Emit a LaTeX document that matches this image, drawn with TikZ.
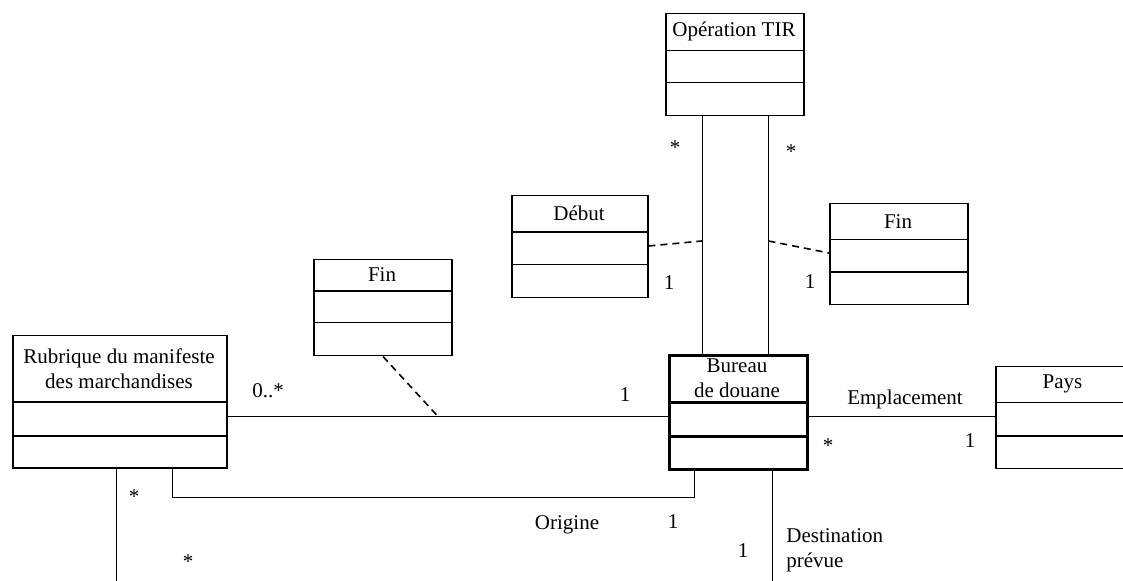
\documentclass[tikz,border=0pt]{standalone}
\usepackage{fontspec}
\setmainfont{Liberation Serif}
\usepackage{tikz}

% class box: name, left, top, right, bottom, first divider, second divider, title
\newcommand{\umlclass}[8]{%
  \node [cls, minimum width={(#4-#2)*0.5pt}, minimum height={(#5-#3)*0.5pt}] (#1) at (#2,#3) {};
  \draw [line width=0.75pt] (#2,#6) -- (#4,#6);
  \draw [line width=0.75pt] (#2,#7) -- (#4,#7);
  \node [align=center] (#1-title) at ({(#2+#4)/2},{(#3+#6)/2}) {#8};
}

\tikzset{
  cls/.style={draw, line width=0.75pt, inner sep=0pt, anchor=north west},
  assoc/.style={line width=0.5pt},
  dep/.style={line width=0.8pt, dash pattern=on 3.5pt off 2.5pt},
  mult/.style={inner sep=0pt},
}

\begin{document}
\begin{tikzpicture}[x=0.5pt, y=-0.5pt, font=\fontsize{10.5}{12.6}\selectfont]
  \useasboundingbox (0,0) rectangle (1123,581);
  \clip (0,0) rectangle (1123,581);

  \umlclass{op}{665}{13}{803}{115}{50.5}{82.5}{Opération TIR}
  \umlclass{deb}{511}{195}{647}{297}{232}{264.5}{Début}
  \umlclass{finr}{829}{203}{967}{304}{239.5}{272}{Fin}
  \umlclass{finl}{313}{259}{451}{355}{291}{322.5}{Fin}
  \umlclass{rub}{12}{335}{226}{467.5}{402}{436}{Rubrique du manifeste\\des marchandises}
  \umlclass{pays}{995}{366}{1130}{468}{402.5}{436}{Pays}
  \umlclass{bur}{668}{354}{806}{468}{402.5}{437}{Bureau\\de douane}
  \node [cls, line width=1.5pt, minimum width=69pt, minimum height=57pt] at (668,354) {};
  \draw [line width=1.5pt] (668,402.5) -- (806,402.5);
  \draw [line width=1.5pt] (668,437) -- (806,437);

  % associations
  \draw [assoc] (op.south -| 702,0) -- (bur.north -| 702,0);
  \draw [assoc] (op.south -| 768.5,0) -- (bur.north -| 768.5,0);
  \draw [assoc] (rub.east |- 0,417) -- (bur.west |- 0,417);
  \draw [assoc] (bur.east |- 0,417) -- (pays.west |- 0,417);
  \draw [assoc] (rub.south -| 172,0) |- (694,497.5) -- (bur.south -| 694,0);
  \coordinate (rubend) at (116,581);
  \coordinate (destend) at (772,581);
  \draw [assoc] (rub.south -| 116,0) -- (rubend);
  \draw [assoc] (bur.south -| 772,0) -- (destend);

  % association classes
  \coordinate (m1) at (702,241);
  \coordinate (m2) at (768.5,241);
  \coordinate (m3) at (438,416.5);
  \draw [dep] (deb.east |- 0,246) -- (m1);
  \draw [dep] (m2) -- (finr.west |- 0,253);
  \draw [dep] (finl.south -| 383,0) -- (m3);

  % multiplicities and roles
  \node [mult] (s1) at (675,148) {*};
  \node [mult] (s2) at (791,152) {*};
  \node [mult] (o1) at (669,283) {1};
  \node [mult] (o2) at (810,282) {1};
  \node [mult] (zs) at (268,391) {0..*};
  \node [mult] (o3) at (625,395) {1};
  \node [mult] (empl) at (905,399) {Emplacement};
  \node [mult] (s3) at (828,446) {*};
  \node [mult] (o4) at (970,441) {1};
  \node [mult] (orig) at (567,525) {Origine};
  \node [mult] (o5) at (673,522) {1};
  \node [mult] (o6) at (743,551) {1};
  \node [mult, anchor=west, align=left] (dest) at (786,550) {Destination\\prévue};
  \node [mult] (s4) at (134,497) {*};
  \node [mult] (s5) at (188,562) {*};
\end{tikzpicture}
\end{document}
